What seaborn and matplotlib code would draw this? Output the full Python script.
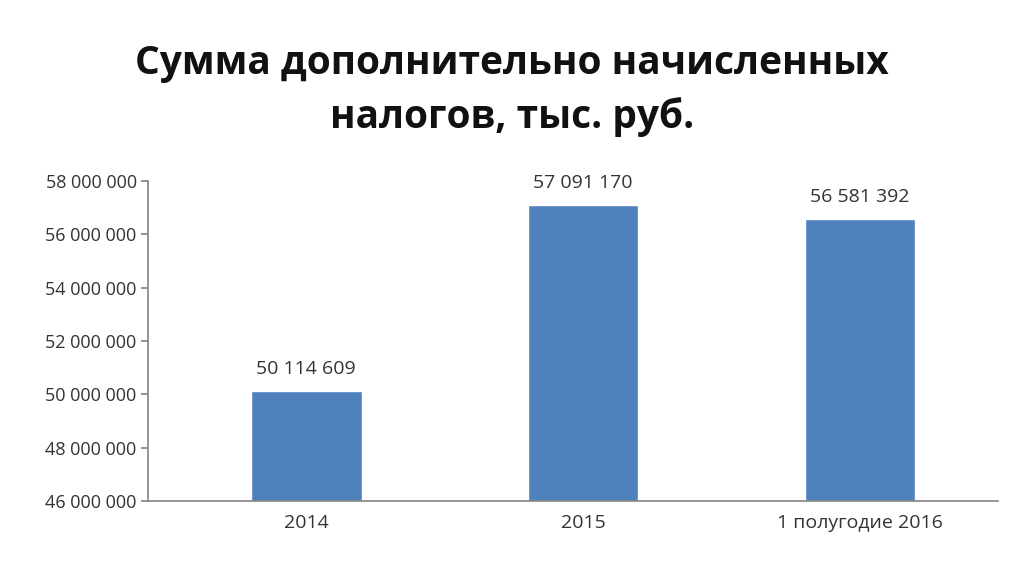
import matplotlib
matplotlib.use("Agg")
import matplotlib.pyplot as plt
import seaborn as sns
import pandas as pd

categories = ["2014", "2015", "1 полугодие 2016"]
values = [50114609, 57091170, 56581392]
labels = ["50 114 609", "57 091 170", "56 581 392"]
yticks = [46000000, 48000000, 50000000, 52000000, 54000000, 56000000, 58000000]

sns.set_theme(style="white")
plt.rcParams['font.family'] = ['Open Sans', 'DejaVu Sans']

df = pd.DataFrame({"cat": categories, "val": values})
fig = plt.figure(figsize=(10.24, 5.66), dpi=100)
ax = fig.add_axes([0.145, 0.115, 0.83, 0.565])
sns.barplot(data=df, x="cat", y="val", color="#4f81bd", saturation=1, width=0.4, ax=ax)
ax.set_xlim(-0.57, 2.5)
ax.set_ylim(46000000, 58000000)
ax.set_yticks(yticks)
ax.set_yticklabels([f"{v:,}".replace(",", " ") for v in yticks], fontsize=13, color="#333333")
ax.tick_params(axis='x', labelsize=14, colors="#333333")
ax.tick_params(axis='y', length=5, left=True, color="#888888")
ax.set_xlabel(""); ax.set_ylabel("")
for s in ["top", "right"]:
    ax.spines[s].set_visible(False)
ax.spines["left"].set_color("#888888")
ax.spines["bottom"].set_color("#888888")
for i, (v, l) in enumerate(zip(values, labels)):
    ax.text(i, v + 500000, l, ha="center", va="bottom", fontsize=14, color="#333333")
fig.text(0.5, 0.84, "Сумма дополнительно начисленных\nналогов, тыс. руб.", ha="center",
         va="center", fontsize=28, fontweight="bold", color="#111111", linespacing=1.45)
fig.savefig("out.png", dpi=100)
